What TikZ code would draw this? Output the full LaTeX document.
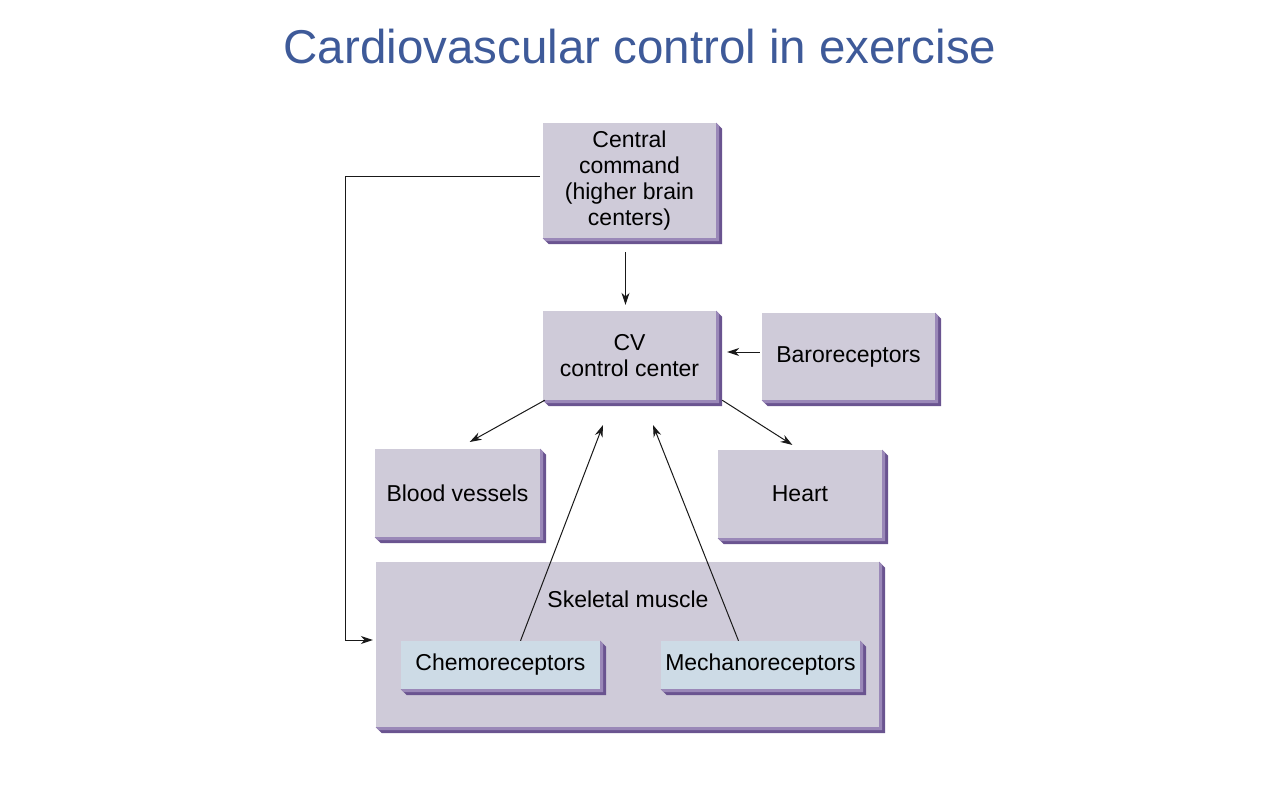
\documentclass[tikz,border=0pt]{standalone}
\usepackage{fontspec}
\setmainfont{Liberation Sans}
\usepackage{xcolor}
\usepackage{tikz}
\usetikzlibrary{arrows.meta}
\definecolor{titleblue}{HTML}{3E5A99}
\definecolor{lavender}{HTML}{CFCBD9}
\definecolor{bevelin}{HTML}{9A88B8}
\definecolor{bevelout}{HTML}{6A5490}
\definecolor{paleblue}{HTML}{CDDBE6}
\newcommand\bevel[1]{%
        \fill[bevelout] (#1.north east) -- ++(6,6) -- ([shift={(6,6)}]#1.south east)
              -- ([shift={(6,6)}]#1.south west) -- (#1.south west) -- (#1.south east) -- cycle;
        \fill[bevelin] (#1.north east) -- ++(3,3) -- ([shift={(3,3)}]#1.south east)
              -- ([shift={(3,3)}]#1.south west) -- (#1.south west) -- (#1.south east) -- cycle;}
\tikzset{
        panel/.style={fill=lavender, inner sep=0pt, align=center,
              font=\fontsize{23}{26}\selectfont},
        sensor/.style={panel, fill=paleblue, minimum width=199pt, minimum height=48pt},
        arr/.style={-{Stealth[length=12pt,width=8pt]}, line width=1pt, black!90}
}

\begin{document}
\begin{tikzpicture}[x=1pt, y=-1pt]
        \useasboundingbox (0,0) rectangle (1280,800);
        \node[titleblue, font=\fontsize{47.5}{52}\selectfont] (title) at (640,47) {Cardiovascular control in exercise};

        \node[panel, minimum width=173pt, minimum height=115pt] (central) at (629.5,180.5)
              {Central\\command\\(higher brain\\centers)};
        \node[panel, minimum width=173pt, minimum height=89pt] (cv) at (629.5,355.5)
              {CV\\control center};
        \node[panel, minimum width=173pt, minimum height=87pt] (baro) at (848.5,356.5)
              {Baroreceptors};
        \node[panel, minimum width=165pt, minimum height=88pt] (blood) at (457.5,493)
              {Blood vessels};
        \node[panel, minimum width=164pt, minimum height=88pt] (heart) at (800,494)
              {Heart};
        \node[panel, minimum width=503pt, minimum height=165pt] (muscle) at (627.5,644.5) {};
        \foreach \b in {central,cv,baro,blood,heart,muscle} {\bevel{\b}}
        \node[panel, fill=none] (musclelabel) at (628,599) {Skeletal muscle};
        \node[sensor] (chemo) at (500.5,665) {Chemoreceptors};
        \node[sensor] (mech) at (760.5,665) {Mechanoreceptors};
        \bevel{chemo}
        \bevel{mech}

        \coordinate (chemotip) at (603,425);
        \coordinate (mechtip) at (653,425);
        \coordinate (loop) at (345,176);

        \draw[arr, shorten <=14pt, shorten >=6pt] ([xshift=-4pt]central.south) -- ([xshift=-4pt]cv.north);
        \draw[arr, shorten <=2pt, shorten >=11pt] ([yshift=4.5pt]baro.west) -- ([yshift=3.5pt]cv.east);
        \draw[arr, shorten >=14pt] ([xshift=2pt]cv.south west) -- (blood.north);
        \draw[arr, shorten >=9pt] ([xshift=6pt]cv.south east) -- (heart.north);
        \draw[arr] ([xshift=20pt]chemo.north) -- (chemotip);
        \draw[arr] ([xshift=-22pt]mech.north) -- (mechtip);
        \draw[arr, shorten <=3pt, shorten >=3pt] ([yshift=4.5pt]central.west) -- (loop) |- ([yshift=4.5pt]muscle.west);
\end{tikzpicture}
\end{document}
